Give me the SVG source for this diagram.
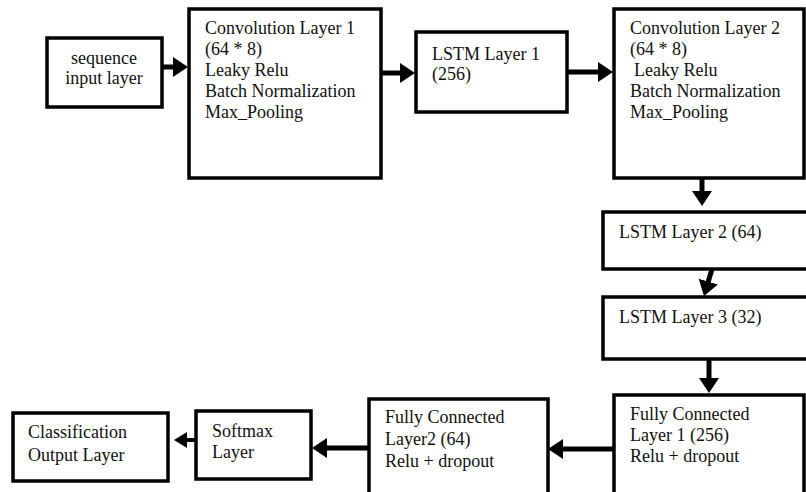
<svg xmlns="http://www.w3.org/2000/svg" width="806" height="492" viewBox="0 0 806 492">
<style>
.box{fill:#fff;stroke:#000;stroke-width:3.5}
.t{font-family:"Liberation Serif","Times New Roman",serif;font-size:18px;fill:#111}
.c{text-anchor:middle}
.con{fill:none;stroke:#000;stroke-width:5}
.con9{fill:none;stroke:#000;stroke-width:4}
</style>
<defs>
<marker id="ah" markerUnits="userSpaceOnUse" markerWidth="15" markerHeight="20" refX="2" refY="10" orient="auto" viewBox="0 0 15 20">
<path d="M0,0 L15,10 L0,20 z" fill="#000"/>
</marker>
<marker id="ahs" markerUnits="userSpaceOnUse" markerWidth="13" markerHeight="16" refX="2" refY="8" orient="auto" viewBox="0 0 13 16">
<path d="M0,0 L13,8 L0,16 z" fill="#000"/>
</marker>
</defs>
<rect width="806" height="492" fill="#fff"/>

<g id="seq">
<rect class="box" x="47" y="38" width="115" height="69"/>
<text class="t c" x="104" y="64">sequence</text>
<text class="t c" x="104" y="84">input layer</text>
</g>
<g id="conv1">
<rect class="box" x="189" y="9" width="192" height="169"/>
<text class="t" x="205" y="34">Convolution Layer 1</text>
<text class="t" x="205" y="55">(64 * 8)</text>
<text class="t" x="205" y="76">Leaky Relu</text>
<text class="t" x="205" y="97">Batch Normalization</text>
<text class="t" x="205" y="118">Max_Pooling</text>
</g>
<g id="lstm1">
<rect class="box" x="416" y="32" width="151" height="80"/>
<text class="t" x="432" y="60">LSTM Layer 1</text>
<text class="t" x="432" y="80">(256)</text>
</g>
<g id="conv2">
<rect class="box" x="614" y="9" width="190" height="169"/>
<text class="t" x="630" y="34">Convolution Layer 2</text>
<text class="t" x="630" y="55">(64 * 8)</text>
<text class="t" x="634" y="76">Leaky Relu</text>
<text class="t" x="630" y="97">Batch Normalization</text>
<text class="t" x="630" y="118">Max_Pooling</text>
</g>
<g id="lstm2">
<rect class="box" x="603" y="212" width="230" height="57"/>
<text class="t" x="619" y="238">LSTM Layer 2 (64)</text>
</g>
<g id="lstm3">
<rect class="box" x="603" y="297" width="230" height="62"/>
<text class="t" x="619" y="323">LSTM Layer 3 (32)</text>
</g>
<g id="fc1">
<rect class="box" x="614" y="395" width="190" height="110"/>
<text class="t" x="630" y="420">Fully Connected</text>
<text class="t" x="630" y="441">Layer 1 (256)</text>
<text class="t" x="630" y="462">Relu + dropout</text>
</g>
<g id="fc2">
<rect class="box" x="369" y="399" width="179" height="110"/>
<text class="t" x="385" y="423">Fully Connected</text>
<text class="t" x="385" y="445">Layer2 (64)</text>
<text class="t" x="385" y="467">Relu + dropout</text>
</g>
<g id="softmax">
<rect class="box" x="196" y="411" width="115" height="68"/>
<text class="t" x="212" y="437">Softmax</text>
<text class="t" x="212" y="458">Layer</text>
</g>
<g id="classification">
<rect class="box" x="13" y="413" width="155" height="68"/>
<text class="t" x="28" y="438">Classification</text>
<text class="t" x="28" y="461">Output Layer</text>
</g>

<g id="connectors">
<path class="con" d="M162,67 H175" marker-end="url(#ah)"/>
<path class="con" d="M381,73 H402" marker-end="url(#ah)"/>
<path class="con" d="M567,72 H600" marker-end="url(#ah)"/>
<path class="con" d="M702,178 V193" marker-end="url(#ah)"/>
<path class="con" d="M712,269 L707.7,283.5" marker-end="url(#ah)"/>
<path class="con" d="M709,359 V380" marker-end="url(#ah)"/>
<path class="con" d="M614,449 H561" marker-end="url(#ah)"/>
<path class="con" d="M369,448 H325" marker-end="url(#ah)"/>
<path class="con9" d="M196,440 H185" marker-end="url(#ahs)"/>
</g>
</svg>
